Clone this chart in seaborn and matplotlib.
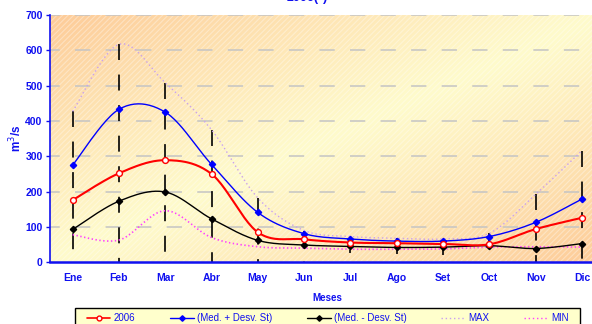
import numpy as np
import pandas as pd
import matplotlib
matplotlib.use("Agg")
import matplotlib.pyplot as plt
import seaborn as sns
from matplotlib.patches import Rectangle
from matplotlib.lines import Line2D

# ---------------- data ----------------
months = ["Ene", "Feb", "Mar", "Abr", "May", "Jun", "Jul", "Ago", "Set", "Oct", "Nov", "Dic"]
y2006 = [176, 252, 289, 250, 85, 65, 56, 54, 52, 51, 94, 126]
med_plus = [275, 433, 425, 277, 141, 81, 66, 60, 60, 73, 113, 179]
med_minus = [93, 173, 199, 123, 62, 49, 45, 42, 43, 47, 39, 53]
max_v = [427, 617, 508, 375, 182, 90, 73, 68, 66, 82, 192, 316]
min_v = [78, 63, 146, 70, 44, 40, 37, 37, 38, 43, 44, 43]
range_low = [33, 0, 15, 0, 0, 0, 0, 0, 0, 0, 0, 0]
yticks = [0, 100, 200, 300, 400, 500, 600, 700]
title = "2006(*)"

# ---------------- style ----------------
sns.set_theme(style="white")
plt.rcParams['font.family'] = ['Liberation Sans', 'DejaVu Sans']
plt.rcParams['lines.scale_dashes'] = False
plt.rcParams['hatch.linewidth'] = 0.8

BLUE = "#1010F0"

fig = plt.figure(figsize=(5.92, 3.24), dpi=100)
fig.patch.set_facecolor("white")
ax = fig.add_axes([49.5 / 592, (324 - 262.3) / 324, 555.6 / 592, 247.3 / 324])

# background gradient
H, W = 120, 240
r = np.arange(H)[:, None] / (H - 1)
c = np.arange(W)[None, :] / (W - 1)
f = np.clip(np.abs(c + r - 1.0), 0, 1) ** 1.1
yel = np.array([255, 251, 204]) / 255
ora = np.array([253, 203, 152]) / 255
img = yel[None, None, :] * (1 - f[..., None]) + ora[None, None, :] * f[..., None]
ax.imshow(img, extent=[-0.5, 11.5, 0, 700], aspect='auto', zorder=0, origin='upper')
ax.add_patch(Rectangle((-0.5, 0), 12, 700, fill=False, hatch='//////',
                       edgecolor=(1, 1, 1, 0.35), lw=0, zorder=0.5))

# grid lines
for v in yticks[1:]:
    ax.axhline(v, color="#C4C4C4", lw=1.1, ls=(4, (11, 11)), zorder=1)


def smooth(y, n=24):
    y = np.asarray(y, float)
    x = np.arange(len(y), dtype=float)
    py = np.concatenate([[y[0]], y, [y[-1]]])
    px = np.concatenate([[x[0]], x, [x[-1]]])
    xs, ys = [], []
    t = np.linspace(0, 1, n, endpoint=False)
    for i in range(len(y) - 1):
        for P, out in ((px, xs), (py, ys)):
            p0, p1, p2, p3 = P[i], P[i + 1], P[i + 2], P[i + 3]
            c1 = p1 + (p2 - p0) / 6
            c2 = p2 - (p3 - p1) / 6
            out.extend((1 - t) ** 3 * p1 + 3 * (1 - t) ** 2 * t * c1 + 3 * (1 - t) * t ** 2 * c2 + t ** 3 * p2)
    xs.append(x[-1]); ys.append(y[-1])
    return np.array(xs), np.array(ys)


xpos = np.arange(len(months))

# vertical dashed high-low lines
for xi, top, low in zip(xpos, max_v, range_low):
    ax.plot([xi, xi], [top, low], color="black", lw=1.2, ls=(0, (11.5, 10.5)), zorder=2)

series = [
    (max_v, "#C9A0F0", 1.0, (0, (1, 2)), None),
    (min_v, "#FF40FF", 1.2, (0, (1, 1.8)), None),
    (med_minus, "black", 1.0, "-", "D"),
    (med_plus, "#0000FF", 1.0, "-", "D"),
    (y2006, "#FF0000", 1.5, "-", "o"),
]
for vals, col, lw, ls, mk in series:
    xs, ys = smooth(vals)
    df = pd.DataFrame({"x": xs, "y": ys})
    sns.lineplot(data=df, x="x", y="y", ax=ax, color=col, lw=lw, linestyle=ls,
                 sort=False, estimator=None, zorder=3)
    if mk == "o":
        ax.plot(xpos, vals, ls="none", marker="o", ms=4.2, mfc="white", mec=col, mew=1.0, zorder=4)
    elif mk == "D":
        ax.plot(xpos, vals, ls="none", marker="D", ms=3.2, mfc=col, mec=col, zorder=4)

ax.set_xlim(-0.5, 11.5)
ax.set_ylim(0, 700)
ax.set_xticks(xpos)
ax.set_xticklabels(months)
ax.set_yticks(yticks)
ax.set_yticklabels([str(v) for v in yticks])
for lab in ax.get_xticklabels() + ax.get_yticklabels():
    lab.set_color(BLUE)
    lab.set_fontweight("bold")
    lab.set_fontsize(7.5)
ax.tick_params(axis="x", length=0, pad=8)
ax.tick_params(axis="y", length=3, width=1, color=BLUE, pad=2, direction="out", left=True)

for s in ["top", "right"]:
    ax.spines[s].set_visible(False)
ax.spines["left"].set_color(BLUE)
ax.spines["left"].set_linewidth(1.2)
ax.spines["bottom"].set_color(BLUE)
ax.spines["bottom"].set_linewidth(1.8)
ax.spines["left"].set_zorder(5)
ax.spines["bottom"].set_zorder(5)

ax.set_ylabel("m$^3$/s", color=BLUE, fontweight="bold", fontsize=8.5, labelpad=0.5)
ax.set_xlabel("Meses", color=BLUE, fontweight="bold", fontsize=7, labelpad=7)

fig.text(307 / 592, 0.989, title, color=BLUE, fontweight="bold", fontsize=9,
         ha="center", va="bottom")

# legend box
fig.patches.append(Rectangle((75 / 592, 1 - 332 / 324), 505 / 592, 24 / 324,
                             transform=fig.transFigure, facecolor="#FFFFCC",
                             edgecolor="black", lw=1.0, zorder=1))

handles = [
    Line2D([], [], color="#FF0000", lw=1.2, marker="o", ms=3.5, mfc="white", mec="#FF0000"),
    Line2D([], [], color="#0000FF", lw=1.0, marker="D", ms=2.8, mfc="#0000FF", mec="#0000FF"),
    Line2D([], [], color="black", lw=1.0, marker="D", ms=2.8, mfc="black", mec="black"),
    Line2D([], [], color="#C9A0F0", lw=1.0, ls=(0, (1, 2))),
    Line2D([], [], color="#FF40FF", lw=1.0, ls=(0, (1, 2))),
]
labels = ["2006", "(Med. + Desv. St)", "(Med. - Desv. St)", "MAX", "MIN"]
leg = fig.legend(handles, labels, loc="center", bbox_to_anchor=(327.5 / 592, 1 - 318 / 324),
                 ncol=5, fontsize=7, handlelength=2.45, handletextpad=0.3, columnspacing=3.6,
                 frameon=False, borderpad=0, borderaxespad=0)
leg.set_zorder(3)
for t in leg.get_texts():
    t.set_color(BLUE)

fig.savefig("out.png", dpi=100, facecolor="white")
